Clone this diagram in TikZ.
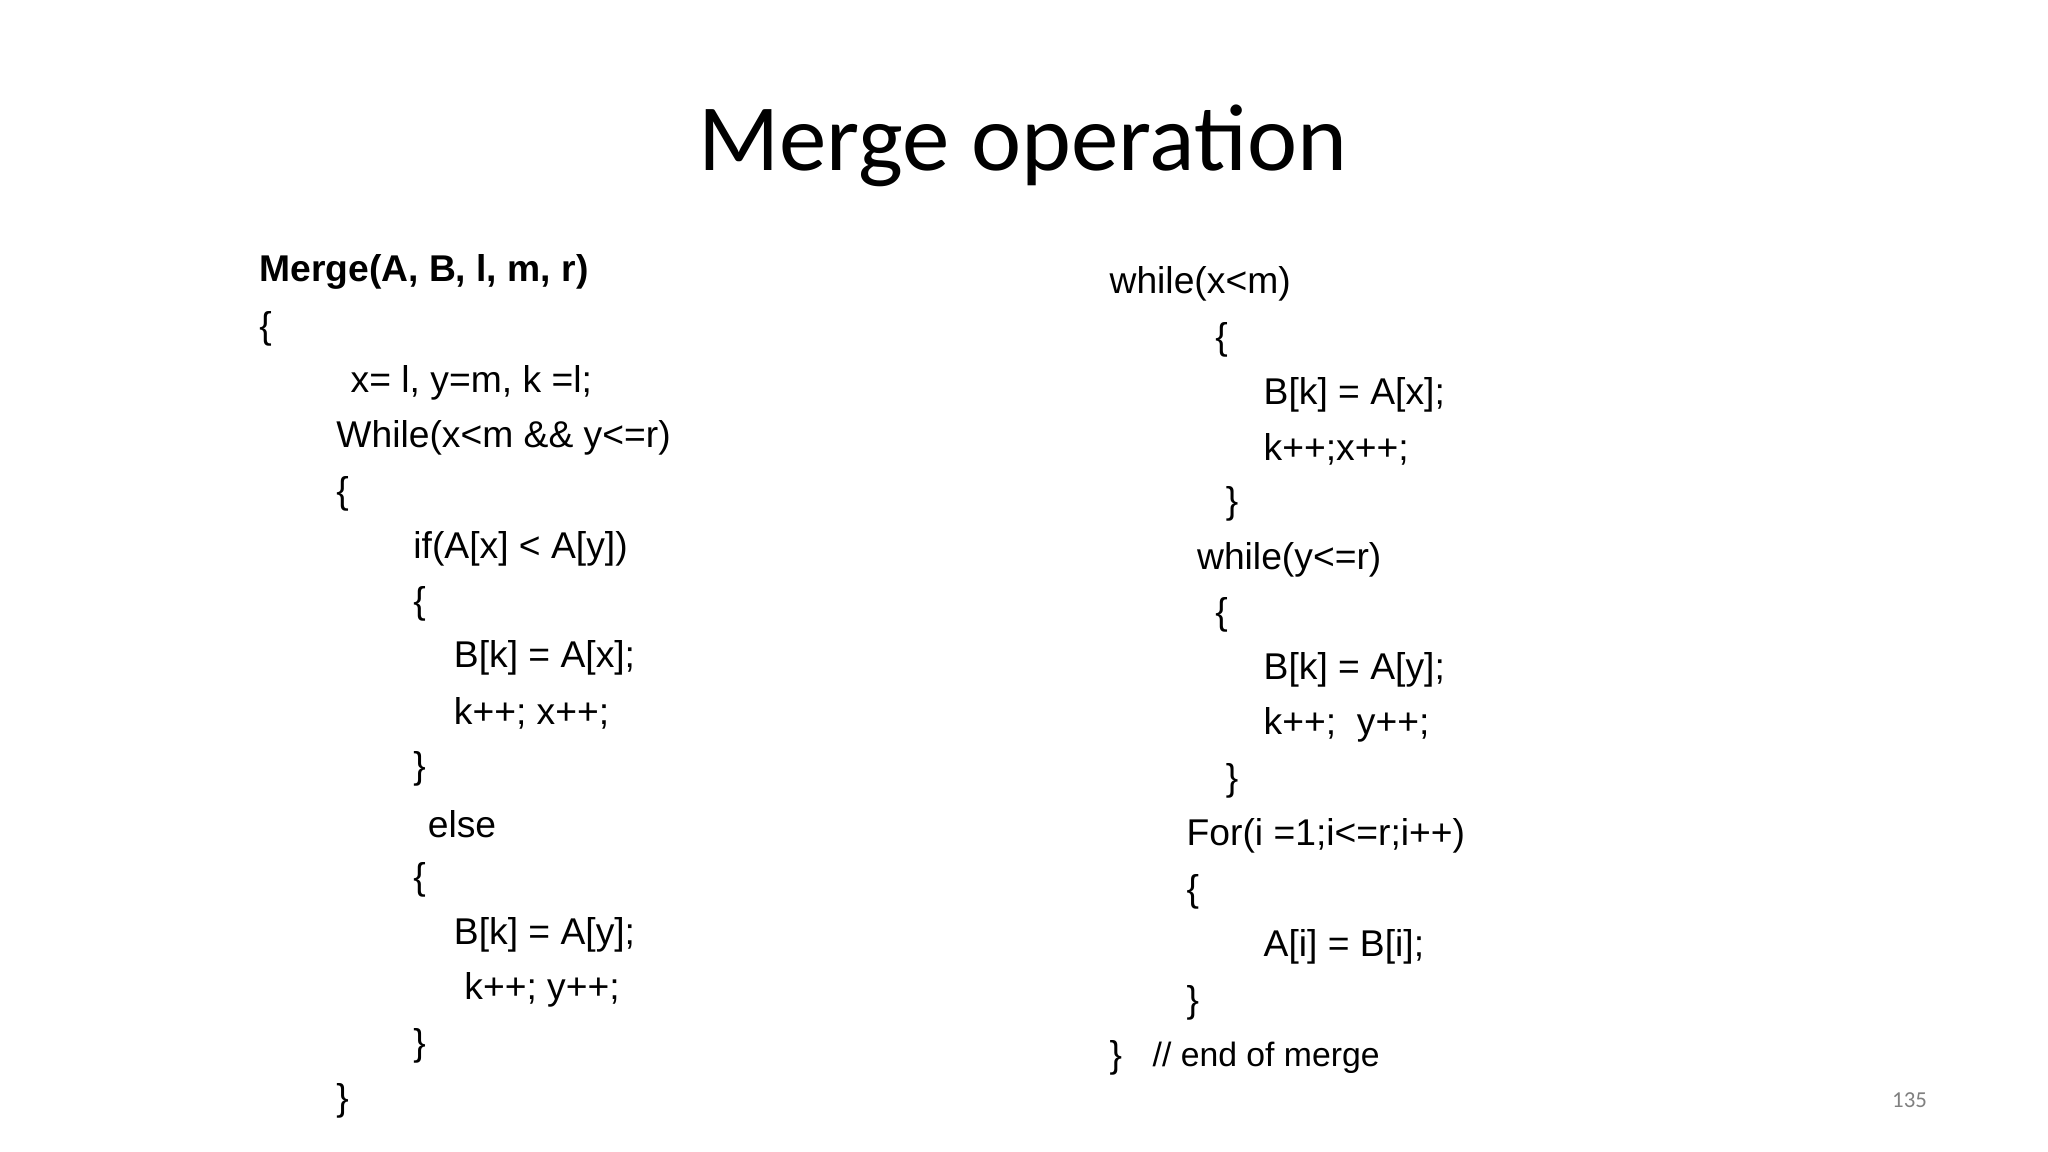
\documentclass[tikz,border=0pt]{standalone}
\usepackage{fontspec}
\setmainfont{Liberation Sans}
\newfontfamily\titlefont{Carlito}
\begin{document}
\begin{tikzpicture}[x=0.013061cm,y=-0.013061cm,
  code/.style={anchor=west,inner sep=0pt,font=\fontsize{10.6}{12}\selectfont}]
\useasboundingbox (0,0) rectangle (1568,882);
\node[font=\titlefont\fontsize{27}{30}\selectfont] (title) at (783,112) {Merge operation};
\node[code,font=\bfseries\fontsize{10.6}{12}\selectfont] (l1) at (198,208) {Merge(A, B, l, m, r)};
\node[code] (l2) at (198,252) {\{};
\node[code] (l3) at (268,293) {x= l, y=m, k =l;};
\node[code] (l4) at (257,335) {While(x<m \&\& y<=r)};
\node[code] (l5) at (257,378) {\{};
\node[code] (l6) at (316,420) {if(A[x] < A[y])};
\node[code] (l7) at (316,462) {\{};
\node[code] (l8) at (347,504) {B[k] = A[x];};
\node[code] (l9) at (347,546) {k++; x++;};
\node[code] (l10) at (316,589) {\}};
\node[code] (l11) at (327,631) {else};
\node[code] (l12) at (316,674) {\{};
\node[code] (l13) at (347,716) {B[k] = A[y];};
\node[code] (l14) at (355,758) {k++; y++;};
\node[code] (l15) at (316,801) {\}};
\node[code] (l16) at (257,843) {\}};
\node[code] (r1) at (849,217) {while(x<m)};
\node[code] (r2) at (930,260) {\{};
\node[code] (r3) at (967,302) {B[k] = A[x];};
\node[code] (r4) at (967,344) {k++;x++;};
\node[code] (r5) at (938,386) {\}};
\node[code] (r6) at (916,429) {while(y<=r)};
\node[code] (r7) at (930,471) {\{};
\node[code] (r8) at (967,513) {B[k] = A[y];};
\node[code] (r9) at (967,555) {k++;\ \ y++;};
\node[code] (r10) at (938,598) {\}};
\node[code] (r11) at (908,640) {For(i =1;i<=r;i++)};
\node[code] (r12) at (908,683) {\{};
\node[code] (r13) at (967,725) {A[i] = B[i];};
\node[code] (r14) at (908,768) {\}};
\node[code] (r15) at (849,810) {\}};
\node[code,font=\fontsize{9.6}{11}\selectfont] (r16) at (882,810) {// end of merge};
\node[font=\titlefont\fontsize{6.5}{8}\selectfont,text=gray] (pg) at (1462,842) {135};
\end{tikzpicture}
\end{document}
